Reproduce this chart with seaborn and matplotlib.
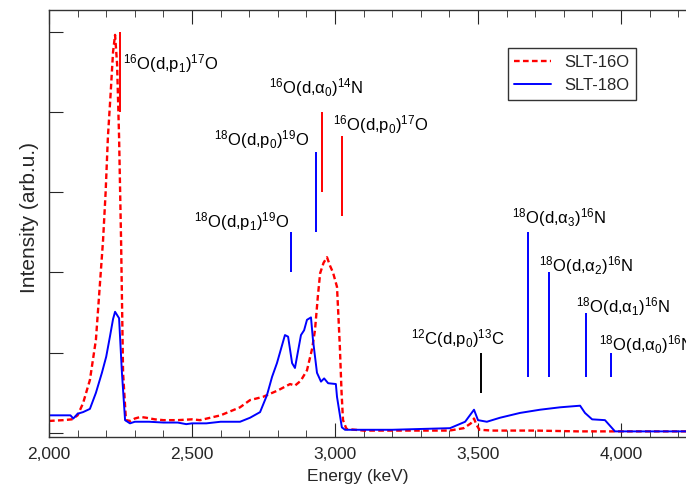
# Spectra of the two SLT samples with the reaction lines marked

import numpy as np
import pandas as pd
import matplotlib.pyplot as plt
import matplotlib.ticker as mticker
import seaborn as sns

# SLT-16O (red dashed)
energy_16 = [2000, 2050, 2080, 2100, 2119, 2143, 2164, 2189, 2198, 2206, 2215, 2224, 2231, 2238,
             2245, 2252, 2259, 2269, 2285, 2300, 2320, 2340, 2370, 2400, 2450, 2500, 2528, 2600,
             2668, 2703, 2748, 2800, 2843, 2860, 2880, 2902, 2920, 2930, 2940, 2948, 2960, 2972,
             2983, 2993, 3007, 3012, 3017, 3023, 3028, 3040, 3100, 3200, 3300, 3400, 3450, 3475,
             3486, 3495, 3505, 3550, 3700, 3850, 4000, 4150, 4280]
inten_16 = [0.15, 0.16, 0.17, 0.22, 0.37, 0.66, 1.16, 2.40, 3.00, 3.69, 4.20, 4.75, 4.96, 4.60,
            3.69, 2.40, 0.75, 0.16, 0.15, 0.18, 0.20, 0.19, 0.17, 0.16, 0.16, 0.17, 0.16, 0.22,
            0.32, 0.41, 0.45, 0.53, 0.61, 0.59, 0.65, 0.78, 1.05, 1.28, 1.70, 1.99, 2.12, 2.19,
            2.08, 2.00, 1.82, 1.45, 1.07, 0.50, 0.16, 0.05, 0.03, 0.03, 0.03, 0.03, 0.06, 0.12,
            0.18, 0.10, 0.04, 0.03, 0.03, 0.02, 0.02, 0.02, 0.02]

# SLT-18O (blue solid)
energy_18 = [2000, 2040, 2075, 2085, 2100, 2119, 2143, 2164, 2185, 2200, 2213, 2224, 2231, 2245,
             2255, 2266, 2283, 2300, 2350, 2400, 2450, 2480, 2500, 2550, 2600, 2668, 2703, 2738,
             2762, 2780, 2797, 2825, 2836, 2850, 2860, 2881, 2892, 2902, 2916, 2923, 2937, 2951,
             2962, 2976, 3003, 3007, 3024, 3035, 3100, 3200, 3300, 3402, 3455, 3486, 3500, 3531,
             3577, 3647, 3717, 3787, 3857, 3874, 3899, 3944, 3979, 4050, 4150, 4280]
inten_18 = [0.22, 0.22, 0.22, 0.18, 0.24, 0.26, 0.30, 0.50, 0.75, 0.95, 1.20, 1.42, 1.51, 1.43,
            0.75, 0.16, 0.12, 0.14, 0.14, 0.13, 0.13, 0.11, 0.12, 0.12, 0.14, 0.14, 0.19, 0.26,
            0.47, 0.70, 0.87, 1.22, 1.20, 0.87, 0.81, 1.22, 1.28, 1.41, 1.44, 1.16, 0.75, 0.64,
            0.68, 0.62, 0.61, 0.45, 0.07, 0.04, 0.04, 0.04, 0.05, 0.06, 0.14, 0.29, 0.16, 0.14,
            0.19, 0.25, 0.29, 0.32, 0.34, 0.25, 0.17, 0.16, 0.02, 0.02, 0.02, 0.02]

# reaction lines: energy, bottom, top, colour, label
line_energy = [2249, 2955, 3024, 2934, 2846, 3510, 3675, 3748, 3878, 3965]
line_lo = [4.0, 3.0, 2.7, 2.5, 2.0, 0.5, 0.7, 0.7, 0.7, 0.7]
line_hi = [5.0, 4.0, 3.7, 3.5, 2.5, 1.0, 2.5, 2.0, 1.5, 1.0]
line_color = ['red', 'red', 'red', 'blue', 'blue', 'black', 'blue', 'blue', 'blue', 'blue']
line_label = [r'$^{16}$O(d,p$_1$)$^{17}$O', r'$^{16}$O(d,α$_0$)$^{14}$N', r'$^{16}$O(d,p$_0$)$^{17}$O',
              r'$^{18}$O(d,p$_0$)$^{19}$O', r'$^{18}$O(d,p$_1$)$^{19}$O', r'$^{12}$C(d,p$_0$)$^{13}$C',
              r'$^{18}$O(d,α$_3$)$^{16}$N', r'$^{18}$O(d,α$_2$)$^{16}$N', r'$^{18}$O(d,α$_1$)$^{16}$N',
              r'$^{18}$O(d,α$_0$)$^{16}$N']
# where each label goes (x, y, horizontal alignment)
label_x = [2259, 2934, 2993, 2909, 2839, 3430, 3619, 3713, 3843, 3923]
label_y = [4.60, 4.31, 3.84, 3.65, 2.63, 1.18, 2.69, 2.09, 1.58, 1.10]
label_ha = ['left', 'center', 'left', 'right', 'right', 'center', 'left', 'left', 'left', 'left']

sns.set_style("ticks")
plt.rcParams['font.family'] = ['Liberation Sans', 'DejaVu Sans']
plt.rcParams['mathtext.fontset'] = 'custom'
plt.rcParams['mathtext.rm'] = 'Liberation Sans'
plt.rcParams['mathtext.default'] = 'regular'

fig = plt.figure(figsize=(6.86, 4.90), dpi=100)
ax = fig.add_axes([49/686, 53/490, 651/686, 427/490])

df16 = pd.DataFrame({'Energy': energy_16, 'Intensity': inten_16})
df18 = pd.DataFrame({'Energy': energy_18, 'Intensity': inten_18})
sns.lineplot(data=df16, x='Energy', y='Intensity', ax=ax, color='red', lw=1.7,
             linestyle=(0, (2.4, 1.4)), label='SLT-16O', estimator=None)
sns.lineplot(data=df18, x='Energy', y='Intensity', ax=ax, color='blue', lw=1.4,
             label='SLT-18O', estimator=None)

for e, lo, hi, c, lab, tx, ty, ha in zip(line_energy, line_lo, line_hi, line_color, line_label,
                                         label_x, label_y, label_ha):
    ax.vlines(e, lo, hi, color=c, lw=1.4)
    ax.text(tx, ty, lab, ha=ha, va='center', fontsize=12, color='black')

ax.set_xlim(2000, 2000 + 651 / 143 * 500)
ax.set_ylim(-0.05, 5.27)
ax.xaxis.set_major_locator(mticker.MultipleLocator(500))
ax.xaxis.set_minor_locator(mticker.MultipleLocator(100))
ax.xaxis.set_major_formatter(mticker.FuncFormatter(lambda v, p: '{:,.0f}'.format(v)))
ax.set_yticks([0, 1, 2, 3, 4, 5])
ax.set_yticklabels([])
ax.tick_params(axis='x', which='major', direction='in', length=10, top=True, labelsize=12.5, pad=7)
ax.tick_params(axis='x', which='minor', direction='in', length=5, top=True)
ax.tick_params(axis='y', direction='in', length=10)
ax.spines['right'].set_visible(False)
for s in ['left', 'bottom', 'top']:
    ax.spines[s].set_color('#333333')
    ax.spines[s].set_linewidth(1.0)

ax.set_xlabel('Energy (keV)', fontsize=12.5)
ax.set_ylabel('Intensity (arb.u.)', fontsize=15)
ax.xaxis.set_label_coords(0.475, -0.075)
ax.yaxis.set_label_coords(-0.015, 0.513)

leg = ax.legend(loc='upper right', bbox_to_anchor=(0.902, 0.911), borderaxespad=0,
                fancybox=False, edgecolor='#333333', framealpha=1, fontsize=12,
                handlelength=2.2)
leg.get_frame().set_linewidth(1.0)

plt.savefig('out.png', dpi=100)
